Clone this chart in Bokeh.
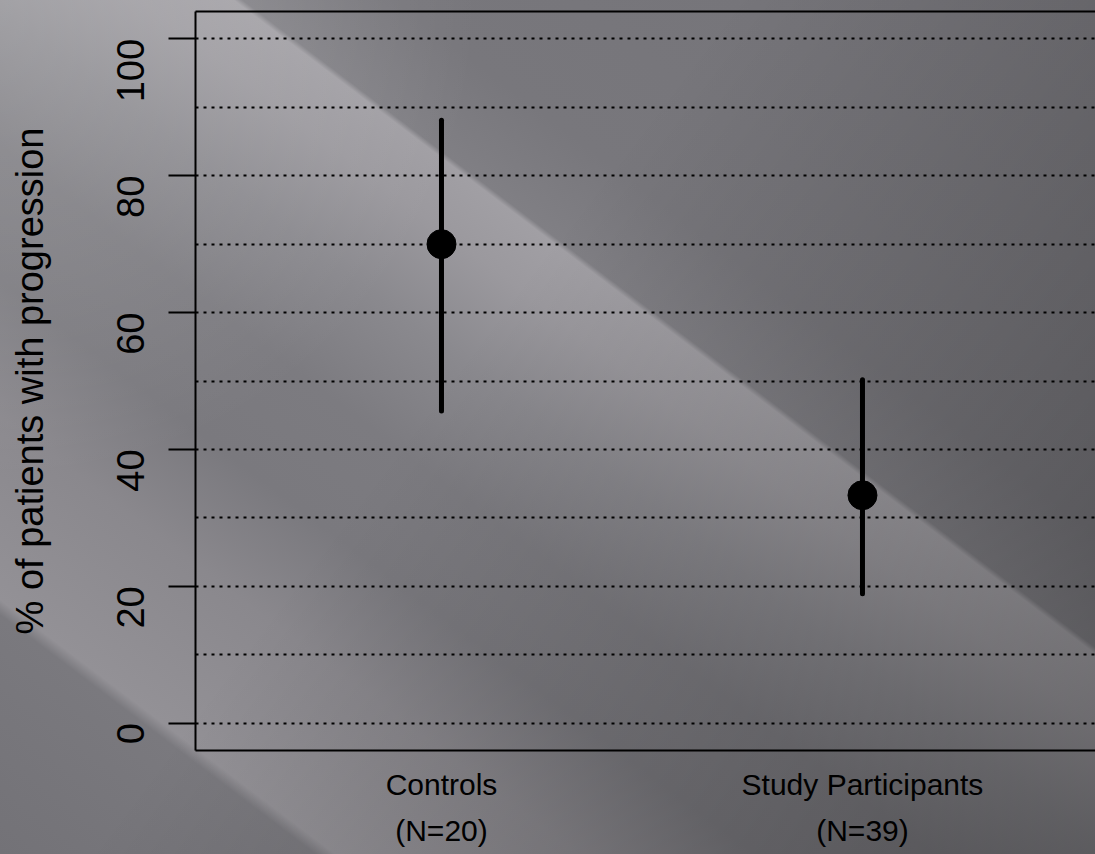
import math
from bokeh.plotting import figure
from bokeh.models import Range1d, FixedTicker, LinearAxis
from bokeh.embed import file_html
from bokeh.resources import INLINE

# ---- data ----
groups = [1, 2]
group_labels = ["Controls\n(N=20)", "Study Participants\n(N=39)"]
pct_progression = [70.0, 33.3]
ci_low = [45.6, 18.9]
ci_high = [88.1, 50.2]
y_ticks = [0, 20, 40, 60, 80, 100]
grid_levels = [0, 10, 20, 30, 40, 50, 60, 70, 80, 90, 100]

FONT = "Liberation Sans"

p = figure(width=1095, height=854, output_backend="svg", toolbar_location=None,
           x_range=Range1d(0.4157, 2.5535), y_range=Range1d(-4, 104),
           min_border_left=195, min_border_right=0, min_border_top=11,
           min_border_bottom=104)

p.background_fill_color = None
p.border_fill_color = None
p.outline_line_color = None
p.styles = {
    "background": (
        "radial-gradient(circle at 0px 0px, rgba(255,255,255,0.2) 0px, rgba(255,255,255,0) 480px), "
        "linear-gradient(127.2deg, rgba(0,0,0,0) 42%, rgba(0,0,0,0.33) 100%), "
        "linear-gradient(217.2deg, #747378 0%, #78777c 31.6%, #807f84 38.4%, "
        "#a19fa4 38.8%, #9b999e 43%, #8a898e 50%, #7c7b80 58%, #7a797e 66%, "
        "#8a888d 74%, #939196 84.9%, #7a797e 85.8%, #737277 100%)"
    )
}

# grid
p.xgrid.visible = False
p.ygrid.ticker = FixedTicker(ticks=grid_levels)
p.ygrid.grid_line_color = "black"
p.ygrid.grid_line_width = 2
p.ygrid.grid_line_dash = "3 5"

# y axis
ya = p.yaxis[0]
ya.ticker = FixedTicker(ticks=y_ticks)
ya.axis_line_color = "black"
ya.axis_line_width = 2
ya.major_tick_line_color = "black"
ya.major_tick_line_width = 2
ya.major_tick_out = 27
ya.major_tick_in = 0
ya.minor_tick_line_color = None
ya.major_label_orientation = math.pi / 2
ya.major_label_standoff = 38
ya.major_label_text_font = FONT
ya.major_label_text_font_size = "38px"
ya.major_label_text_color = "black"
ya.axis_label = "% of patients with progression"
ya.axis_label_text_font = FONT
ya.axis_label_text_font_size = "38px"
ya.axis_label_text_font_style = "normal"
ya.axis_label_text_color = "black"
ya.axis_label_standoff = 50

# x axis
xa = p.xaxis[0]
xa.ticker = FixedTicker(ticks=groups)
xa.major_label_overrides = {g: lab for g, lab in zip(groups, group_labels)}
xa.axis_line_color = "black"
xa.axis_line_width = 2
xa.major_tick_line_color = None
xa.major_tick_out = 0
xa.major_tick_in = 0
xa.minor_tick_line_color = None
xa.major_label_standoff = 17
xa.major_label_text_font = FONT
xa.major_label_text_font_size = "30px"
xa.major_label_text_color = "black"
xa.major_label_text_line_height = 1.4

# top frame line
top = LinearAxis(axis_line_color="black", axis_line_width=2,
                 major_tick_line_color=None, minor_tick_line_color=None,
                 major_label_text_font_size="0px", major_tick_out=0,
                 major_tick_in=0, ticker=FixedTicker(ticks=[]))
p.add_layout(top, "above")

# error bars and points
p.segment(x0=groups, y0=ci_low, x1=groups, y1=ci_high,
          line_color="black", line_width=5, line_cap="round")
p.scatter(x=groups, y=pct_progression, size=29, marker="circle",
          fill_color="black", line_color="black")

open("out.html", "w").write(file_html(p, INLINE))
